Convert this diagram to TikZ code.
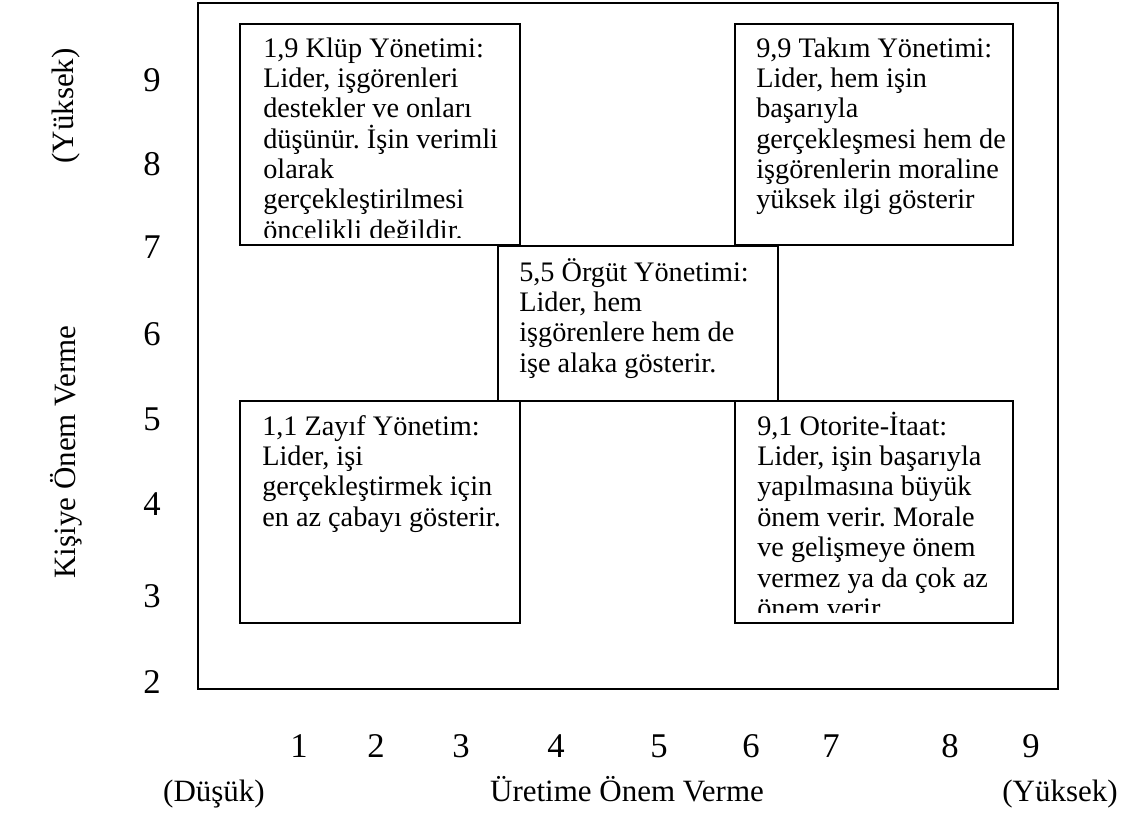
\documentclass[tikz,border=0pt]{standalone}
\usepackage{fontspec}
\setmainfont{Liberation Serif}
\frenchspacing
\newcommand{\boxlines}[1]{\parbox[t]{240pt}{\raggedright\fontsize{21.2pt}{22.8pt}\selectfont #1}}
\begin{document}
\begin{tikzpicture}[x=0.75pt,y=-0.75pt,
  frame/.style={draw=black,line width=1.6pt,inner sep=0pt,outer sep=0pt,anchor=north west},
  quad/.style={draw=black,line width=1.1pt,fill=white,inner sep=0pt,outer sep=0pt,anchor=north west},
  boxtext/.style={anchor=base west,inner sep=0pt},
  tickno/.style={inner sep=0pt,anchor=base,font=\fontsize{26pt}{30pt}\selectfont},
  axislabel/.style={inner sep=0pt,anchor=base,font=\fontsize{23.25pt}{28pt}\selectfont}]
\useasboundingbox (0,0) rectangle (1129,828);

% outer frame of the grid
\node[frame,minimum width=645pt,minimum height=514.5pt] (grid) at (198,3) {};

% the five management styles
\node[quad,minimum width=210pt,minimum height=165.75pt] (club) at (240,24) {};
\node[quad,minimum width=208.5pt,minimum height=165.75pt] (team) at (735,24) {};
\node[quad,minimum width=210pt,minimum height=116.25pt] (middle) at (498,246) {};
\node[quad,minimum width=210pt,minimum height=166.5pt] (poor) at (240,401) {};
\node[quad,minimum width=208.5pt,minimum height=166.5pt] (task) at (735,401) {};

\begin{scope}
  \clip (240,24) rectangle (520,237);
  \node[boxtext] (clubtext) at (263,57) {\boxlines{1,9 Klüp Yönetimi:\\Lider, işgörenleri\\destekler ve onları\\düşünür. İşin verimli\\olarak\\gerçekleştirilmesi\\öncelikli değildir.}};
\end{scope}
\node[boxtext] (teamtext) at (756,57) {\boxlines{9,9 Takım Yönetimi:\\Lider, hem işin\\başarıyla\\gerçekleşmesi hem de\\işgörenlerin moraline\\yüksek ilgi gösterir}};
\node[boxtext] (middletext) at (519,281) {\boxlines{5,5 Örgüt Yönetimi:\\Lider, hem\\işgörenlere hem de\\işe alaka gösterir.}};
\node[boxtext] (poortext) at (262,435) {\boxlines{1,1 Zayıf Yönetim:\\Lider, işi\\gerçekleştirmek için\\en az çabayı gösterir.}};
\begin{scope}
  \clip (735,401) rectangle (1013,612);
  \node[boxtext] (tasktext) at (757,435) {\boxlines{9,1 Otorite-İtaat:\\Lider, işin başarıyla\\yapılmasına büyük\\önem verir. Morale\\ve gelişmeye önem\\vermez ya da çok az\\önem verir.}};
\end{scope}

% vertical scale
\foreach \v/\y in {9/91,8/175,7/258,6/345,5/430,4/515,3/607,2/693}
  \node[tickno] (y\v) at (152,\y) {\v};

% horizontal scale
\foreach \v/\x in {1/299,2/376,3/461,4/556,5/659,6/751,7/831,8/950,9/1031}
  \node[tickno] (x\v) at (\x,757) {\v};

% axis titles
\node[axislabel,rotate=90,anchor=center] (yhigh) at (66,106) {(Yüksek)};
\node[axislabel,rotate=90,anchor=center] (ytitle) at (66,452) {Kişiye Önem Verme};
\node[axislabel] (xlow) at (214,801) {(Düşük)};
\node[axislabel] (xtitle) at (627,801) {Üretime Önem Verme};
\node[axislabel] (xhigh) at (1060,801) {(Yüksek)};
\end{tikzpicture}
\end{document}
